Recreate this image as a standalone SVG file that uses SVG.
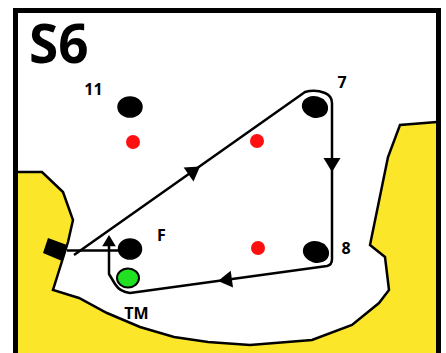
<svg xmlns="http://www.w3.org/2000/svg" width="446" height="353" viewBox="0 0 446 353">
<style>
.lbl{font-family:"Open Sans","Liberation Sans",sans-serif;font-weight:bold;font-size:16px;fill:#000;text-anchor:middle}
.title{font-family:"Open Sans","Liberation Sans",sans-serif;font-weight:bold;font-size:53px;fill:#000}
.conn{fill:none;stroke:#000;stroke-width:2.5;stroke-linejoin:round}
.cone{fill:#000;stroke:#000;stroke-width:1.5}
.red{fill:#ff1010}
.edge{fill:none;stroke:#000;stroke-width:2.5;stroke-linejoin:miter}
</style>
<defs>
<path id="ah" d="M0,0 L-14,-8.5 L-14,8.5 Z" fill="#000"/>
</defs>
<rect x="0" y="0" width="446" height="353" fill="#fff"/>
<g id="terrain">
<polygon fill="#fce62a" points="18,172 42,172 63,192 73,220 68,242 53,290 79,298 107,313 140,327 174,337 208,342 250,345 312,340 352,325 379,303 389,290 385,257 370,245 388,157 400,125 437,122 437,353 18,353"/>
<polyline class="edge" points="18,172 42,172 63,192 73,220 68,242 53,290 79,298 107,313 140,327 174,337 208,342 250,345 312,340 352,325 379,303 389,290 385,257 370,245 388,157 400,125 437,122"/>
</g>
<rect id="frame" x="15.5" y="10.5" width="423" height="345" fill="none" stroke="#000" stroke-width="5"/>
<text id="title" class="title" x="29" y="63">S6</text>
<g id="connectors">
<path class="conn" d="M74,255 L305,92 Q315,89 325,93 Q332,96 332,103 L332,259 Q332,265 327,266 L130,293 Q120,292 115,284 L109,274 L109,242"/>
<line class="conn" x1="67" y1="250.5" x2="122" y2="250.5"/>
<use href="#ah" transform="translate(200,166.5) rotate(-35.2)"/>
<use href="#ah" transform="translate(332,172) rotate(90)"/>
<use href="#ah" transform="translate(218,281) rotate(172.2)"/>
<use href="#ah" transform="translate(109,235) rotate(-90) scale(0.8)"/>
</g>
<g id="start">
<polygon points="48,238 67,245 62,261 43,253" fill="#000"/>
</g>
<g id="node-11">
<ellipse cx="130" cy="107" rx="12" ry="10" class="cone"/>
<text class="lbl" x="93.5" y="95">11</text>
</g>
<g id="node-7">
<ellipse cx="315" cy="107" rx="12.5" ry="10" class="cone" transform="rotate(15 315 107)"/>
<text class="lbl" x="342" y="88">7</text>
</g>
<g id="node-8">
<ellipse cx="316" cy="252" rx="12.5" ry="10" class="cone" transform="rotate(15 316 252)"/>
<text class="lbl" x="346" y="254">8</text>
</g>
<g id="node-F">
<ellipse cx="130" cy="249" rx="11.5" ry="10" class="cone"/>
<text class="lbl" x="161.5" y="241">F</text>
</g>
<g id="node-TM">
<ellipse cx="128" cy="278" rx="11" ry="9.5" fill="#22e022" stroke="#000" stroke-width="2"/>
<text class="lbl" x="136.5" y="319">TM</text>
</g>
<g id="markers">
<circle class="red" cx="133" cy="142" r="7"/>
<circle class="red" cx="257" cy="141" r="7"/>
<circle class="red" cx="258" cy="248" r="7"/>
</g>
</svg>
